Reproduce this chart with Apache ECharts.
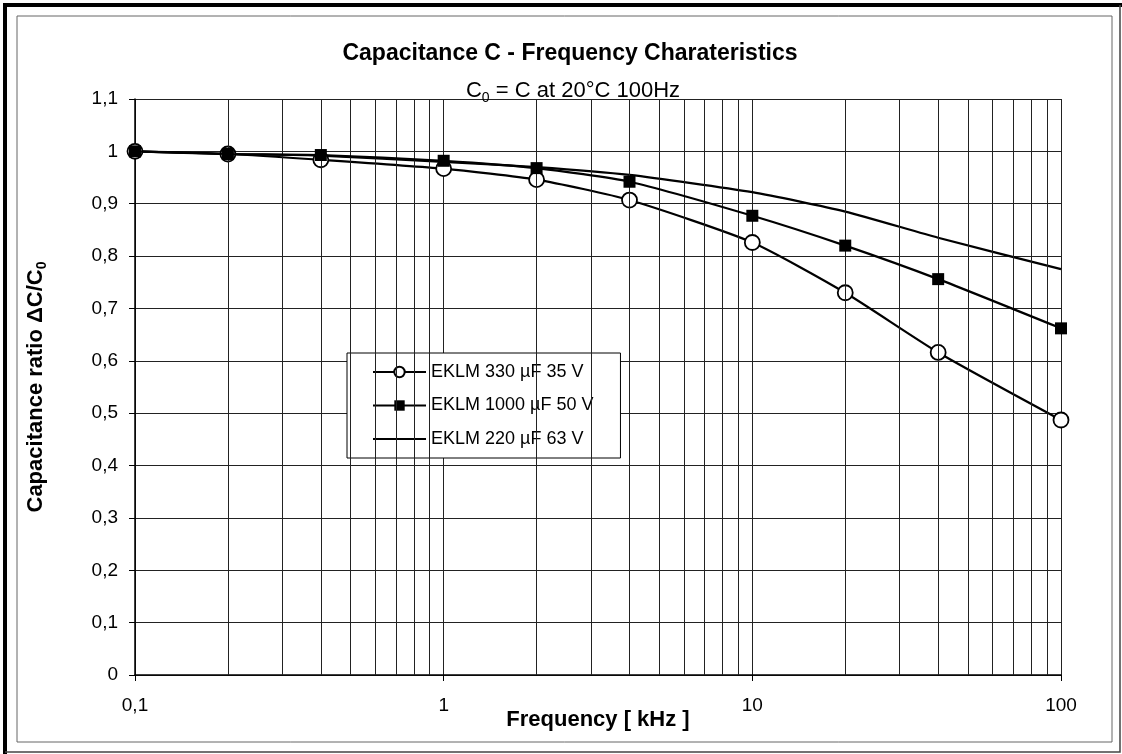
<!DOCTYPE html>
<html><head><meta charset="utf-8">
<script src="https://cdn.jsdelivr.net/npm/echarts@6/dist/echarts.min.js"></script>
<style>html,body{margin:0;padding:0;background:#fff}#c{width:1122px;height:754px}</style>
</head><body><div id="c"></div>
<script>
const frequencies = [0.1, 0.2, 0.4, 1, 2, 4, 10, 20, 40, 100];
const eklm330 = [1.0, 0.995, 0.984, 0.967, 0.946, 0.907, 0.826, 0.73, 0.616, 0.487];
const eklm1000 = [1.0, 0.995, 0.993, 0.982, 0.968, 0.942, 0.877, 0.82, 0.756, 0.662];
const eklm220 = [1.0, 0.995, 0.992, 0.98, 0.97, 0.955, 0.922, 0.885, 0.835, 0.775];
const seriesNames = ['EKLM 330 µF 35 V', 'EKLM 1000 µF 50 V', 'EKLM 220 µF 63 V'];
const minorGridFreqs = [0.2,0.3,0.4,0.5,0.6,0.7,0.8,0.9, 2,3,4,5,6,7,8,9, 20,30,40,50,60,70,80,90];
const titleText = 'Capacitance C - Frequency Charateristics';
const subtitleText = '{a|C}{s|0}{a| = C at 20°C 100Hz}';
const xName = 'Frequency [ kHz ]';
const yName = '{a|Capacitance ratio ΔC/C}{s|0}';

const FONT = 'Liberation Sans, Arial, sans-serif';
const pair = (xs, ys) => xs.map((x, i) => [x, ys[i]]);
const fmt = v => String(Math.round(v * 10) / 10).replace('.', ',');

const chart = echarts.init(document.getElementById('c'), null, {renderer: 'canvas'});
chart.setOption({
  backgroundColor: '#fff',
  animation: false,
  textStyle: {fontFamily: FONT, color: '#000'},
  title: [
    {text: titleText, left: 565, textAlign: 'center', top: 37,
     textStyle: {fontFamily: FONT, fontSize: 23, fontWeight: 'bold', color: '#000'}},
    {text: subtitleText, left: 568, textAlign: 'center', top: 72,
     textStyle: {fontFamily: FONT, fontWeight: 'normal', color: '#000',
       rich: {a: {fontFamily: FONT, fontSize: 22, fontWeight: 'normal', lineHeight: 28, color: '#000'},
              s: {fontFamily: FONT, fontSize: 14, fontWeight: 'normal', lineHeight: 14, verticalAlign: 'bottom', color: '#000'}}}}
  ],
  graphic: [
    {type: 'polyline', shape: {points: [[5, 754], [5, 5], [1122, 5]]}, style: {stroke: '#000', lineWidth: 4, fill: null}, silent: true},
    {type: 'polyline', shape: {points: [[1120, 5], [1120, 752], [5, 752]]}, style: {stroke: '#444', lineWidth: 1.5, fill: null}, silent: true},
    {type: 'rect', shape: {x: 17, y: 16, width: 1095, height: 726}, style: {stroke: '#666', lineWidth: 1, fill: null}, silent: true}
  ],
  legend: {
    orient: 'vertical', left: 347, top: 353,
    data: [
      {name: seriesNames[0]},
      {name: seriesNames[1]},
      {name: seriesNames[2], icon: 'path://M0,0 L53,0 L53,2.2 L0,2.2 Z', itemStyle: {color: '#000'}}
    ],
    backgroundColor: '#fff', borderColor: '#000', borderWidth: 1,
    padding: [9, 27, 9, 25],
    itemWidth: 53, itemHeight: 13, itemGap: 13.5,
    textStyle: {fontFamily: FONT, fontSize: 18, color: '#000', lineHeight: 20},
    selectedMode: false
  },
  grid: {left: 135, right: 61, top: 99, bottom: 79, containLabel: false},
  xAxis: {
    type: 'log', logBase: 10, min: 0.1, max: 100,
    name: xName, nameLocation: 'middle', nameGap: 34, nameMoveOverlap: false,
    nameTextStyle: {fontFamily: FONT, fontSize: 22, fontWeight: 'bold', color: '#000'},
    axisLine: {show: true, onZero: false, lineStyle: {color: '#000', width: 1.5}},
    axisTick: {show: true, inside: false, length: 6, lineStyle: {color: '#000'}},
    axisLabel: {fontFamily: FONT, fontSize: 19, color: '#000', margin: 21, formatter: fmt},
    splitLine: {show: true, lineStyle: {color: '#222', width: 1}},
    minorTick: {show: false}, minorSplitLine: {show: false}
  },
  yAxis: {
    type: 'value', min: 0, max: 1.1, interval: 0.1,
    name: yName, nameLocation: 'middle', nameGap: 86, nameRotate: 90, nameMoveOverlap: false,
    nameTextStyle: {fontFamily: FONT, color: '#000',
      rich: {a: {fontFamily: FONT, fontSize: 22, fontWeight: 'bold', lineHeight: 26, color: '#000'},
             s: {fontFamily: FONT, fontSize: 14, fontWeight: 'bold', lineHeight: 14, verticalAlign: 'bottom', color: '#000'}}},
    axisLine: {show: true, lineStyle: {color: '#000', width: 1.5}},
    axisTick: {show: true, inside: false, length: 6, lineStyle: {color: '#000'}},
    axisLabel: {fontFamily: FONT, fontSize: 19, color: '#000', margin: 17, formatter: fmt},
    splitLine: {show: true, lineStyle: {color: '#222', width: 1}}
  },
  series: [
    {type: 'line', name: '__grid', data: [], silent: true, z: 1, symbol: 'none',
     markLine: {silent: true, symbol: ['none', 'none'], label: {show: false},
       lineStyle: {color: '#222', width: 1, type: 'solid'}, animation: false,
       emphasis: {disabled: true},
       data: minorGridFreqs.map(v => ({xAxis: v}))}},
    {type: 'line', name: seriesNames[2], data: pair(frequencies, eklm220), symbol: 'none', smooth: 0.2, z: 3,
     color: '#000', lineStyle: {color: '#000', width: 2.2}},
    {type: 'line', name: seriesNames[0], data: pair(frequencies, eklm330), symbol: 'circle', symbolSize: 15, smooth: 0.2, z: 4,
     color: '#000', itemStyle: {color: '#fff', borderColor: '#000', borderWidth: 1.8}, lineStyle: {color: '#000', width: 2.2}},
    {type: 'line', name: seriesNames[1], data: pair(frequencies, eklm1000), symbol: 'rect', symbolSize: 12, smooth: 0.2, z: 5,
     color: '#000', itemStyle: {color: '#000'}, lineStyle: {color: '#000', width: 2.2}}
  ]
});
</script></body></html>
